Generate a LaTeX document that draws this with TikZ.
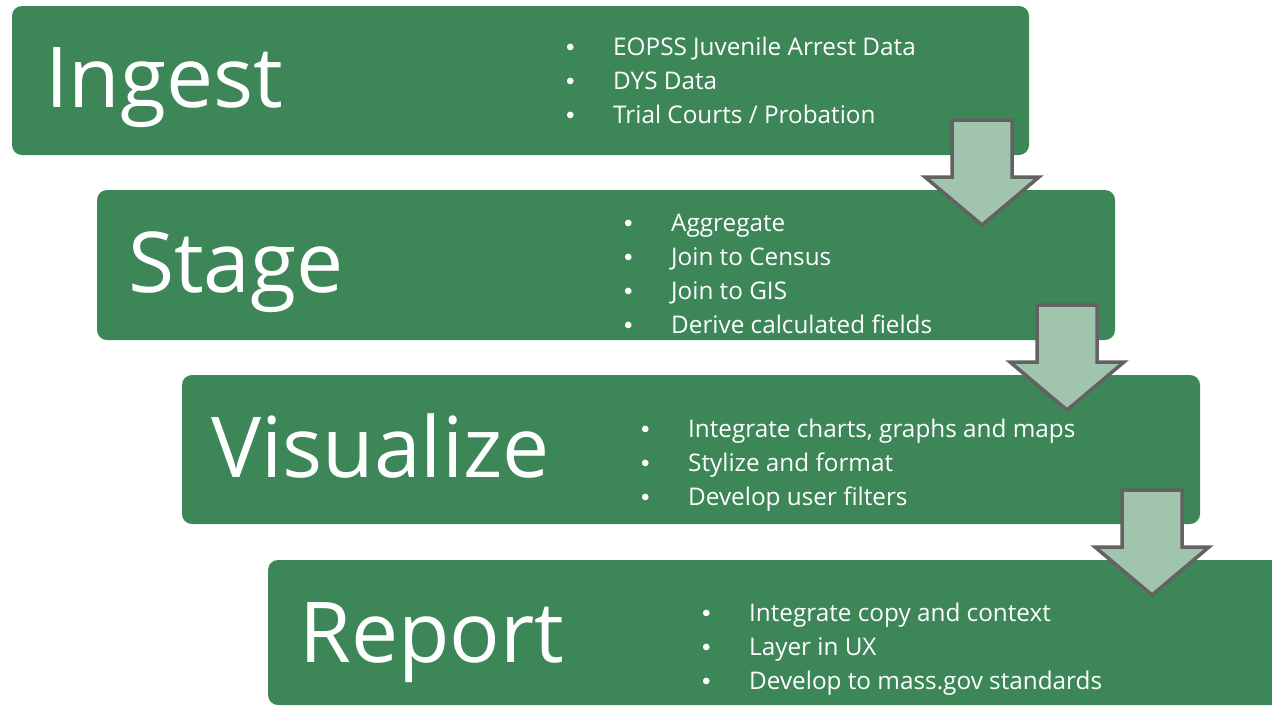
\documentclass[tikz,border=0pt]{standalone}
\usepackage{fontspec}
\setmainfont{Open Sans}
\newfontfamily\bulletfont{Liberation Sans}
\definecolor{boxgreen}{RGB}{60,134,88}
\definecolor{arrowfill}{RGB}{161,196,174}
\definecolor{arrowline}{RGB}{98,98,98}
\tikzset{
  stagebox/.style={fill=boxgreen, draw=none, rounded corners=10pt},
  titletext/.style={text=white, anchor=base west, inner sep=0pt, font=\fontsize{84}{100}\selectfont},
  listtext/.style={text=white, anchor=base west, inner sep=0pt, font=\fontsize{24.3}{34}\selectfont},
  blockarrow/.style={fill=arrowfill, draw=arrowline, line width=3.5pt, miter limit=10},
}
\newcommand{\blt}{\makebox[47pt][l]{{\bulletfont\textbullet}}}
\newcommand{\downblock}[3]{% name, center x, top y
  \coordinate (#1) at (#2,#3);
  \draw[blockarrow] ([xshift=-30pt]#1) -- ([xshift=30pt]#1) -- ([xshift=30pt,yshift=-57pt]#1)
    -- ([xshift=57pt,yshift=-57pt]#1) -- ([yshift=-105pt]#1) -- ([xshift=-57pt,yshift=-57pt]#1)
    -- ([xshift=-30pt,yshift=-57pt]#1) -- cycle;
}
\begin{document}
\begin{tikzpicture}[x=1pt,y=-1pt]
\useasboundingbox (0,0) rectangle (1272,707);
\fill[white] (0,0) rectangle (1272,707);
% boxes
\path[stagebox] (12,6) rectangle (1029,155);
\path[stagebox] (97,190) rectangle (1115,340);
\path[stagebox] (182,375) rectangle (1200,524);
\path[stagebox] (268,560) rectangle (1300,705);
% titles
\node[titletext] (ingest) at (45,107) {Ingest};
\node[titletext] (stage) at (128,292) {Stage};
\node[titletext] (visualize) at (211,477) {Visualize};
\node[titletext] (report) at (299,662) {Report};
% lists
\node[listtext] (l1) at (566,55) {\begin{tabular}[t]{@{}l@{}}\blt EOPSS Juvenile Arrest Data\\ \blt DYS Data\\ \blt Trial Courts / Probation\end{tabular}};
\node[listtext] (l2) at (624,231) {\begin{tabular}[t]{@{}l@{}}\blt Aggregate\\ \blt Join to Census\\ \blt Join to GIS\\ \blt Derive calculated fields\end{tabular}};
\node[listtext] (l3) at (641,437) {\begin{tabular}[t]{@{}l@{}}\blt Integrate charts, graphs and maps\\ \blt Stylize and format\\ \blt Develop user filters\end{tabular}};
\node[listtext] (l4) at (702,621) {\begin{tabular}[t]{@{}l@{}}\blt Integrate copy and context\\ \blt Layer in UX\\ \blt Develop to mass.gov standards\end{tabular}};
% arrows
\downblock{a1}{982}{120}
\downblock{a2}{1067}{305}
\downblock{a3}{1152}{490}
\end{tikzpicture}
\end{document}
